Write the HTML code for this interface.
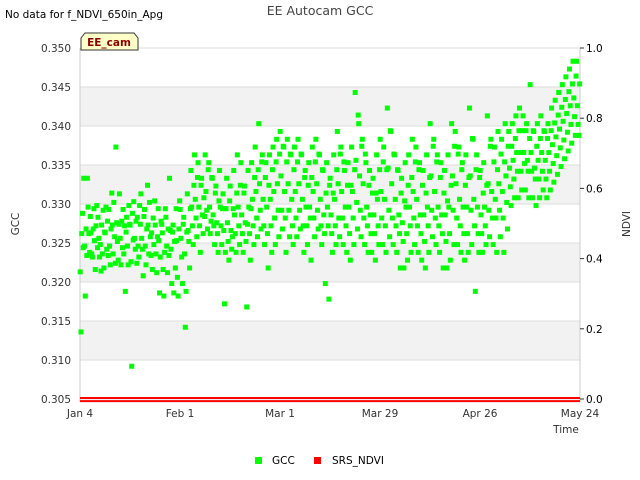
<!DOCTYPE html>
<html><head><meta charset="utf-8">
<style>
body{margin:0;background:#fff;}
svg{display:block;font-family:"DejaVu Sans","Liberation Sans",sans-serif;}
</style></head>
<body>
<svg id="chart" width="640" height="480" viewBox="0 0 640 480">
  <rect x="0" y="0" width="640" height="480" fill="#fff"/>
  <g id="bands"></g>
  <g id="grid"></g>
  <line x1="80" y1="48" x2="80" y2="402" stroke="#ccc"/>
  <line x1="580" y1="48" x2="580" y2="402" stroke="#ccc"/>
  <g id="ylabels"></g>
  <g id="y2labels"></g>
  <g id="xlabels"></g>
  <g id="points"></g>
  <g id="ndvi"></g>
  <text x="5" y="18" font-size="10.5" fill="#000">No data for f_NDVI_650in_Apg</text>
  <text x="320" y="15" font-size="12.5" fill="#444" text-anchor="middle">EE Autocam GCC</text>
  <text x="19" y="224" font-size="10.5" fill="#333" text-anchor="middle" transform="rotate(-90 19 224)">GCC</text>
  <text x="630" y="224" font-size="10.5" fill="#333" text-anchor="middle" transform="rotate(-90 630 224)">NDVI</text>
  <text x="566" y="433" font-size="10.5" fill="#333" text-anchor="middle">Time</text>
  <g>
    <path d="M81,50 L81,38 L85,33 L134,33 L138,38 L138,50 Z" fill="#ffffc8" stroke="#333" stroke-width="1"/>
    <text x="109" y="46" font-size="10.5" font-weight="bold" fill="#8b0000" text-anchor="middle">EE_cam</text>
  </g>
  <g>
    <rect x="255" y="457" width="7" height="7" fill="#00ff00"/>
    <text x="272" y="464" font-size="10.5" fill="#000">GCC</text>
    <rect x="314" y="457" width="7" height="7" fill="#ff0000"/>
    <text x="332" y="464" font-size="10.5" fill="#000">SRS_NDVI</text>
  </g>
</svg>
<script>
var yTicks = [0.305,0.310,0.315,0.320,0.325,0.330,0.335,0.340,0.345,0.350];
var y2Ticks = [0.0,0.2,0.4,0.6,0.8,1.0];
var xTickDays = [0,28,56,84,112,140];
var xTickLabels = ["Jan 4","Feb 1","Mar 1","Mar 29","Apr 26","May 24"];
var ndviUpper = [0.003,0.003,0.003,0.003,0.003];
var ndviLower = [-0.006,-0.006,-0.006,-0.006,-0.006];
var ndviDays = [0,35,70,105,140];
// sample time within a day (fraction of day) and small value offset per sample slot (thousandths)
var sampleTimes = [0.05,0.27,0.48,0.69,0.9];
var sampleOffsets = [0.3,-0.4,0.2,-0.2,0.4];
// GCC in thousandths, one row per day (day index from Jan 4), 5 samples per day
var gccMilli = [
[321,314,326,329,324],[333,325,318,327,323],[333,330,326,324,328],[326,324,323,327,329],[325,322,327,330,324],
[328,326,323,325,321],[327,324,329,322,326],[326,330,324,328,323],[329,325,322,327,331],[327,324,330,326,322],
[337,328,325,323,327],[331,326,322,328,324],[329,324,327,319,326],[328,325,322,330,327],[327,323,309,329,325],
[330,326,324,328,322],[328,325,323,330,327],[331,326,324,321,328],[329,325,322,327,332],[327,324,330,326,323],
[326,322,328,325,330],[327,324,321,326,329],[325,319,323,328,327],[326,322,318,324,329],[328,325,321,327,323],
[333,327,324,320,326],[327,319,325,322,329],[325,321,318,327,330],[329,326,323,320,327],[328,324,314,319,326],
[331,327,325,322,329],[334,330,327,325,332],[336,331,328,326,333],[335,330,327,324,332],[333,329,326,331,328],
[336,332,329,327,334],[335,330,326,328,333],[333,329,327,325,331],[332,328,326,324,330],[334,330,327,325,329],
[331,327,317,324,329],[333,328,325,323,330],[332,327,324,326,329],[334,329,326,324,331],[336,330,327,325,332],
[335,329,326,324,331],[332,328,325,317,327],[334,330,326,323,329],[335,331,327,325,333],[337,332,328,326,334],
[340,333,329,327,335],[336,331,327,325,333],[335,330,326,322,332],[336,331,327,324,334],[337,332,328,325,335],
[338,333,329,326,336],[339,334,329,327,337],[337,332,328,324,335],[338,333,329,326,336],[336,331,327,325,334],
[337,332,328,326,335],[338,333,329,327,336],[336,331,327,324,333],[334,330,327,325,332],[335,330,328,323,333],
[337,332,328,326,335],[338,333,329,327,336],[336,331,327,325,334],[334,329,326,320,331],[335,330,327,318,332],
[333,329,326,324,331],[336,331,327,325,334],[339,333,328,326,336],[337,332,328,325,335],[334,330,327,324,332],
[335,330,326,323,332],[337,332,328,325,334],[344,336,330,327,341],[340,334,329,326,337],[338,333,328,325,336],
[335,330,327,324,332],[334,329,326,324,331],[333,329,326,323,331],[336,331,327,325,334],[338,332,328,325,335],
[337,331,327,324,334],[342,335,329,326,339],[339,333,328,325,336],[336,331,327,324,334],[334,329,326,322,331],
[333,328,325,322,330],[335,330,326,323,332],[336,330,327,324,333],[338,332,328,325,335],[337,331,327,324,334],
[335,329,326,323,332],[334,329,325,322,331],[336,330,327,324,333],[340,334,329,326,337],[338,332,328,325,335],
[336,330,327,324,333],[335,329,326,322,331],[334,329,325,322,330],[336,330,326,323,332],[340,334,329,325,337],
[339,333,328,325,336],[337,331,327,324,334],[335,330,326,323,332],[336,330,326,324,333],[342,334,329,325,338],
[338,331,327,319,334],[336,330,326,324,333],[334,329,326,324,331],[335,330,327,325,332],[341,333,329,326,337],
[338,332,328,325,335],[337,331,328,324,334],[339,333,329,326,336],[338,332,328,324,335],[340,334,330,327,337],
[339,335,332,330,337],[340,336,333,331,338],[341,337,334,331,339],[342,337,334,332,339],[341,337,335,332,339],
[340,336,334,331,338],[345,337,334,331,339],[339,335,333,330,337],[340,336,333,331,338],[341,337,334,332,339],
[339,336,333,331,338],[340,337,334,332,339],[342,338,335,333,340],[343,339,336,334,341],[344,340,337,335,342],
[345,341,338,336,343],[346,342,339,337,344],[347,343,340,338,345],[348,344,341,339,346],[348,343,340,339,345]
];
var NS='http://www.w3.org/2000/svg';
var X0=80,X1=580,D0=0,D1=140;
function xs(d){return X0+(d-D0)/(D1-D0)*(X1-X0);}
function ys(v){return 399-(v-0.305)/(0.350-0.305)*351;}
function y2s(v){return 399-v*351;}
function mk(t,a,p){var e=document.createElementNS(NS,t);for(var k in a)e.setAttribute(k,a[k]);p.appendChild(e);return e;}
var bands=document.getElementById('bands'),grid=document.getElementById('grid');
for(var i=0;i<yTicks.length-1;i++){
  if(i%2===1){
    var b=mk('rect',{x:X0,y:ys(yTicks[i+1]),width:X1-X0,height:ys(yTicks[i])-ys(yTicks[i+1]),fill:'#f2f2f2'},bands);
    
    
  }
}
var yl=document.getElementById('ylabels');
yTicks.forEach(function(v){
  var l=mk('line',{x1:X0,x2:X1,y1:ys(v),y2:ys(v),stroke:'#ddd'},grid);
  
  
  var t=mk('text',{x:71,y:ys(v)+4,'font-size':10.5,fill:'#333','text-anchor':'end'},yl);
  t.textContent=v.toFixed(3);
  
  
});
var y2l=document.getElementById('y2labels');
y2Ticks.forEach(function(v){
  var m=mk('line',{x1:X1,x2:X1+4,y1:y2s(v),y2:y2s(v),stroke:'#333'},y2l);
  
  
  var t=mk('text',{x:586,y:y2s(v)+4,'font-size':10.5,fill:'#000'},y2l);
  t.textContent=v.toFixed(1);
  
  
});
var xl=document.getElementById('xlabels');
xTickDays.forEach(function(d,i){
  var t=mk('text',{x:xs(d),y:417,'font-size':10.5,fill:'#333','text-anchor':'middle'},xl);
  t.textContent=xTickLabels[i];
  
  
});
var pts=document.getElementById('points');
gccMilli.forEach(function(row,day){
  row.forEach(function(v,j){
    var d=day+sampleTimes[j];
    var val=(v+sampleOffsets[j])/1000;
    var r=mk('rect',{x:xs(d)-2.5,y:ys(val)-2.5,width:5,height:5,fill:'#00ff00'},pts);
    
    
  });
});
var nd=document.getElementById('ndvi');
[ndviUpper,ndviLower].forEach(function(arr){
  var p=mk('polyline',{points:arr.map(function(v,i){return xs(ndviDays[i])+','+y2s(v);}).join(' '),fill:'none',stroke:'#ff0000','stroke-width':2},nd);
  
  
});
</script>
</body></html>
